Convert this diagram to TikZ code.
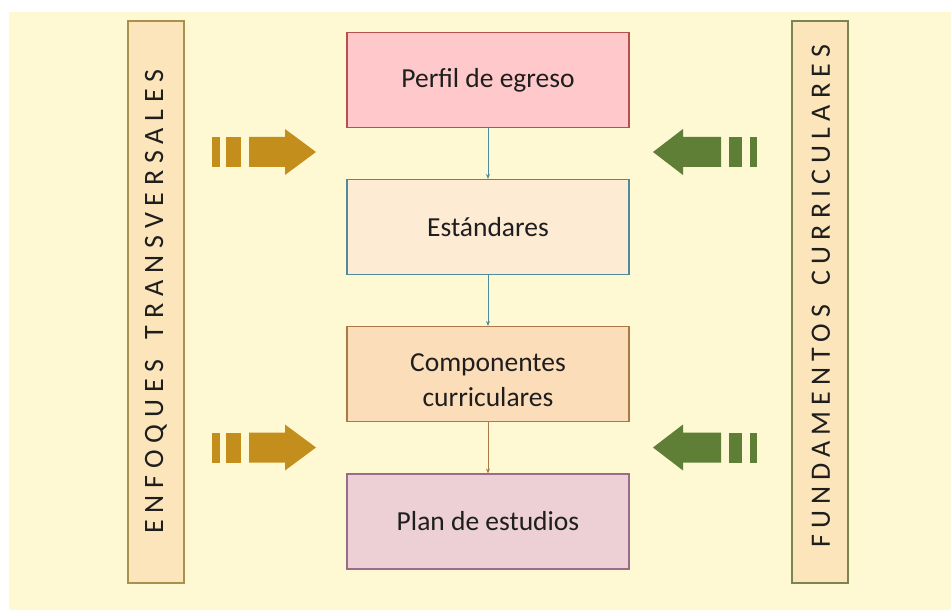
\documentclass[tikz,border=0pt]{standalone}
\usepackage{fontspec}
\setmainfont{Carlito}
\newfontfamily\sidefontL[LetterSpace=24.7]{Carlito}
\newfontfamily\sidefontR[LetterSpace=21.9]{Carlito}
\usetikzlibrary{arrows.meta}
\definecolor{bg}{HTML}{FEF9D2}
\definecolor{barfill}{HTML}{FCE5BA}
\definecolor{barleft}{HTML}{A8904E}
\definecolor{barright}{HTML}{7C8450}
\definecolor{gold}{HTML}{C48E1C}
\definecolor{leaf}{HTML}{5F7F36}
\definecolor{fA}{HTML}{FFC9CC}\definecolor{dA}{HTML}{B5504F}
\definecolor{fB}{HTML}{FDEBD3}\definecolor{dB}{HTML}{4E8B9B}
\definecolor{fC}{HTML}{FCDDB9}\definecolor{dC}{HTML}{A97A48}
\definecolor{fD}{HTML}{ECD0D6}\definecolor{dD}{HTML}{9C6B8A}
\definecolor{ink}{HTML}{1E1E1E}
\tikzset{
  box/.style={draw, line width=1.1pt, minimum width=282pt, minimum height=95pt,
    inner sep=0pt, align=center, text=ink, font=\fontsize{27.5}{35}\selectfont},
  bar/.style={draw, line width=1.1pt, fill=barfill, minimum width=56pt, minimum height=562pt, inner sep=0pt},
  sidetext/.style={rotate=90, text=ink, inner sep=0pt},
  conn/.style={line width=1pt, -{Stealth[length=5pt,width=4pt]}}
}
\begin{document}
\begin{tikzpicture}[x=1pt,y=-1pt]
\useasboundingbox (0,0) rectangle (951,612);
\fill[bg] (9,12) rectangle (951,610);

% side bars
\node[bar, draw=barleft] (lbar) at (156,302) {};
\node[bar, draw=barright] (rbar) at (820,302) {};
\node[sidetext, font=\sidefontL\fontsize{28}{34}\selectfont] (ltext) at (156,301.5) {ENFOQUES\hspace{7pt} TRANSVERSALES};
\node[sidetext, font=\sidefontR\fontsize{28}{34}\selectfont] (rtext) at (821,296.5) {FUNDAMENTOS\hspace{7pt} CURRICULARES};

% central boxes
\node[box, fill=fA, draw=dA] (b1) at (488,80) {Perfil de egreso};
\node[box, fill=fB, draw=dB] (b2) at (488,227) {Estándares};
\node[box, fill=fC, draw=dC] (b3) at (488,374) {\rule{0pt}{31pt}Componentes\\curriculares};
\node[box, fill=fD, draw=dD] (b4) at (488,521.5) {Plan de estudios};

\draw[conn, dB] (b1) -- (b2);
\draw[conn, dB] (b2) -- (b3);
\draw[conn, dC] (b3) -- (b4);

% gold striped arrows (left)
\foreach \c in {152,447.5}{
  \fill[gold] (212,\c-15) rectangle (220,\c+15);
  \fill[gold] (226,\c-15) rectangle (241,\c+15);
  \fill[gold] (249,\c-15) -- (285,\c-15) -- (285,\c-23) -- (316,\c) -- (285,\c+23) -- (285,\c+15) -- (249,\c+15) -- cycle;
}
% green striped arrows (right)
\foreach \c in {152,447.5}{
  \fill[leaf] (750,\c-15) rectangle (757,\c+15);
  \fill[leaf] (729,\c-15) rectangle (742,\c+15);
  \fill[leaf] (721,\c-15) -- (683,\c-15) -- (683,\c-23) -- (653,\c) -- (683,\c+23) -- (683,\c+15) -- (721,\c+15) -- cycle;
}
\end{tikzpicture}
\end{document}
